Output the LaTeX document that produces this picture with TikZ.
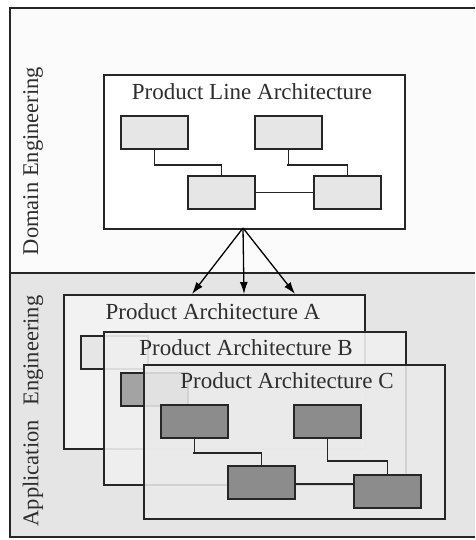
\documentclass[tikz,border=0pt]{standalone}
\usepackage{fontspec}
\setmainfont{Liberation Serif}
\usetikzlibrary{arrows.meta}
\definecolor{lineC}{HTML}{262626}
\definecolor{txtC}{HTML}{2E2E2E}
\definecolor{topBg}{HTML}{FBFBFB}
\definecolor{botBg}{HTML}{E5E5E5}
\definecolor{lightBox}{HTML}{E6E6E6}
\definecolor{midBox}{HTML}{A3A3A3}
\definecolor{darkBox}{HTML}{8C8C8C}
\begin{document}
\begin{tikzpicture}[x=1pt,y=-1pt,
  frame/.style={draw=lineC,line width=1.6pt,rectangle,inner sep=0pt,anchor=north west},
  comp/.style={draw=lineC,line width=1.6pt,rectangle,inner sep=0pt,minimum width=67pt,minimum height=33pt,anchor=north west},
  wire/.style={draw=lineC,line width=1.3pt},
  ttl/.style={font=\fontsize{23}{25}\selectfont,text=txtC,inner sep=0pt},
  side/.style={font=\fontsize{22.5}{25}\selectfont,text=txtC,inner sep=0pt,rotate=90},
  arr/.style={draw=black,line width=1.3pt,-{Latex[length=12pt,width=8pt]}}]
\useasboundingbox (0,0) rectangle (475,540);
% backgrounds
\fill[topBg] (10,8) rectangle (475,273);
\fill[botBg] (10,273) rectangle (475,537);
\draw[lineC,line width=1.6pt] (475,8) -- (10,8) -- (10,537) -- (475,537);
\draw[lineC,line width=1.6pt] (10,273) -- (475,273);
\node[side] (dom) at (33,161) {Domain Engineering};
\node[side] (app) at (33,411) {Application\hspace{0.4em} Engineering};
% Product line architecture
\node[frame,fill=white,minimum width=301pt,minimum height=154pt] (pla) at (103,74) {};
\node[ttl] (plat) at (252,92) {Product Line Architecture};
\node[comp,fill=lightBox] (p1) at (120,115) {};
\node[comp,fill=lightBox] (p2) at (254,115) {};
\node[comp,fill=lightBox] (p3) at (187,175) {};
\node[comp,fill=lightBox] (p4) at (313,175) {};
\coordinate (pj1) at (154,165);
\coordinate (pj2) at (287,165);
\draw[wire] (p1.south) |- (pj1) -| (p3.north);
\draw[wire] (p2.south) |- (pj2) -| (p4.north);
\draw[wire] (p3.east) -- (p4.west);
% Product architecture A
\node[frame,fill=white,fill opacity=0.5,minimum width=301pt,minimum height=154pt] (pa) at (63,294) {};
\node[ttl] (pat) at (213,312) {Product Architecture A};
\node[comp,fill=lightBox] (a1) at (80,335) {};
% arrows
\coordinate (src) at (243,228);
\coordinate (ta1) at (192,294);
\coordinate (ta2) at (244,294);
\coordinate (ta3) at (295,294);
\draw[arr] (src) -- (ta1);
\draw[arr] (src) -- (ta2);
\draw[arr] (src) -- (ta3);
% Product architecture B
\node[frame,fill=botBg!60!white,fill opacity=0.9,minimum width=302pt,minimum height=153pt] (pb) at (103,331) {};
\node[ttl] (pbt) at (246,348) {Product Architecture B};
\node[comp,fill=midBox] (b1) at (120,372) {};
% Product architecture C
\node[frame,fill=botBg!80!white,fill opacity=0.88,minimum width=301pt,minimum height=154pt] (pc) at (143,364) {};
\node[ttl] (pct) at (287,381) {Product Architecture C};
\node[comp,fill=darkBox] (c1) at (160,404) {};
\node[comp,fill=darkBox] (c2) at (293,404) {};
\node[comp,fill=darkBox] (c3) at (227,465) {};
\node[comp,fill=darkBox] (c4) at (353,474) {};
\coordinate (cj1) at (193,453);
\coordinate (cj2) at (327,461);
\draw[wire] (c1.south) |- (cj1) -| (c3.north);
\draw[wire] (c2.south) |- (cj2) -| (c4.north);
\draw[wire] (c3.east |- 0,484) -- (c4.west |- 0,484);
\end{tikzpicture}
\end{document}
